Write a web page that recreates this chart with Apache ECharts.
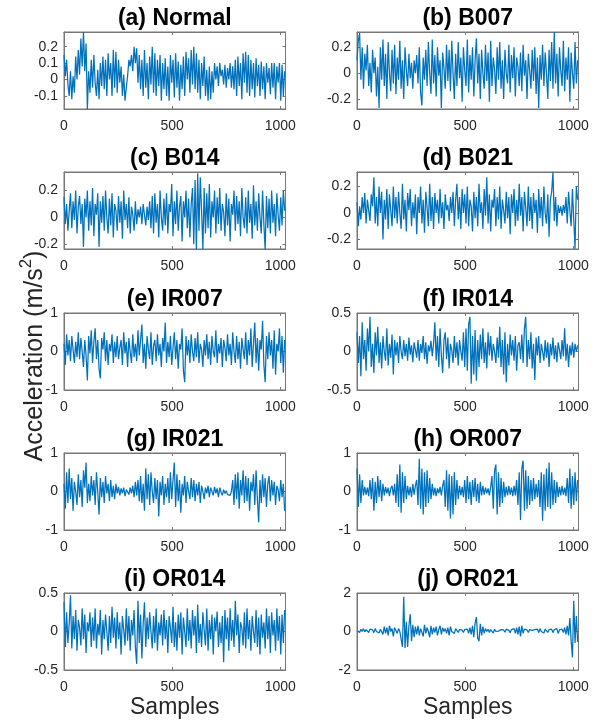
<!DOCTYPE html>
<html>
<head>
<meta charset="utf-8">
<script src="https://cdn.jsdelivr.net/npm/echarts@6/dist/echarts.min.js"></script>
<style>html,body{margin:0;padding:0;background:#fff}#c{width:608px;height:726px}</style>
</head>
<body>
<div id="c"></div>
<script>
// ---- data ----
const SAMPLE_STEP = 6; // samples between successive readings
const titles = ['(a) Normal','(b) B007','(c) B014','(d) B021','(e) IR007','(f) IR014','(g) IR021','(h) OR007','(i) OR014','(j) OR021'];
const xTickValues = [0, 500, 1000];
const yMins = [-0.18, -0.277, -0.236, -0.272, -1, -0.5, -1, -1, -0.5, -2];
const yMaxs = [0.29, 0.318, 0.339, 0.309, 1, 0.5, 1, 1, 0.5, 2];
const yTickValues = [[-0.1,0,0.1,0.2],[-0.2,0,0.2],[-0.2,0,0.2],[-0.2,0,0.2],[-1,0,1],[-0.5,0,0.5],[-1,0,1],[-1,0,1],[-0.5,0,0.5],[-2,0,2]];
const yAxisTitle = 'Acceleration (m/s';
const xAxisTitle = 'Samples';

const normal = [0.15,0.02,0.12,-0.03, -0.1,0.05,-0.12,0.02,-0.08, 0.14,0.0,0.18,0.03, 0.25,0.08,0.29,0.05,0.22,
-0.18,0.05,-0.08,0.12,-0.05, 0.15,-0.02,-0.1,0.06,-0.12,0.1,-0.04,0.14,
-0.06,0.12,-0.1,0.16,0.0,0.1,-0.1,0.18,-0.05,0.17, -0.08,0.12,-0.02,0.08,-0.1,0.03,-0.13,
-0.05,0.02,0.12,0.08,0.15, 0.05,0.2,0.1,0.19,-0.02,0.15,-0.06,0.12,
-0.1,0.18,-0.05,0.1,-0.12,0.14,-0.03,0.2,-0.08,0.16, -0.1,0.12,-0.04,0.15,-0.13,0.1,-0.06,0.13,-0.1,0.08,
-0.13,0.15,-0.02,0.12,-0.11,0.16,-0.05,0.11,-0.13,0.09, -0.06,0.14,-0.1,0.17,0.0,0.13,-0.08,0.18,-0.03,0.2,
-0.06,0.16,-0.08,0.12,-0.12,0.1,-0.04,0.14,-0.1,0.06, -0.13,0.08,-0.12,0.05,-0.08,0.1,
0.0,0.08,-0.04,0.1,0.02,0.06,-0.03,0.09,-0.05,0.07,0.0,0.1,-0.05,0.08,
-0.06,0.12,-0.1,0.14,-0.04,0.1,-0.12,0.16,-0.02,0.17,-0.08,0.15,-0.1,0.12,-0.06,
0.1,-0.11,0.13,-0.04,0.09,-0.1,0.11,-0.06,0.08,-0.12,0.1,-0.02,0.07,-0.09,0.1,
-0.05,0.1,-0.12,0.08,-0.02,0.1,-0.13,0.09,-0.1,0.05];
const b007 = [0.1,0.25,0.31,-0.05,0.2,-0.12,0.15,0.02,0.22,-0.1,
0.08,-0.15,0.18,0.0,0.12,-0.18,0.05,-0.27,0.2,-0.05,
0.26,-0.1,0.15,-0.2,0.24,0.0,-0.14,0.18,-0.08,0.22,
-0.16,0.12,-0.05,0.25,-0.12,0.1,-0.2,0.2,0.02,-0.1,
0.15,-0.04,0.08,-0.12,0.1,0.0,0.14,-0.08,0.2,-0.15,
-0.25,0.12,-0.05,0.18,-0.1,0.24,0.0,-0.16,0.26,-0.08,
0.14,-0.18,0.2,-0.02,0.1,-0.27,0.16,0.04,-0.12,0.22,
-0.06,0.18,-0.14,0.25,0.0,-0.2,0.15,-0.1,0.24,-0.04,
0.12,-0.22,0.2,0.02,-0.1,0.26,-0.15,0.14,-0.05,0.2,
-0.18,0.1,0.27,-0.08,0.15,-0.2,0.18,0.0,-0.12,0.22,
-0.06,0.16,-0.22,0.25,-0.1,0.12,0.03,-0.16,0.2,-0.05,
0.24,-0.12,0.1,-0.2,0.18,0.0,-0.08,0.22,-0.15,0.14,
-0.04,0.2,-0.18,0.12,0.05,-0.1,0.16,-0.14,0.22,-0.02,
0.1,-0.2,0.15,0.02,-0.12,0.18,-0.06,0.2,-0.16,0.12,
-0.27,0.14,-0.05,0.22,-0.1,0.16,0.0,-0.2,0.18,-0.06,
0.24,-0.12,0.32,-0.08,0.15,-0.18,0.2,0.02,-0.1,0.25,
-0.14,0.12,-0.05,0.2,-0.22,0.16,0.0,-0.12,0.24,-0.08,0.1];
const b014 = [0.15,-0.05,0.1,-0.1,0.05,0.18,-0.08,0.12,-0.02,0.2,
-0.12,0.08,0.16,-0.05,0.1,-0.22,0.14,0.0,0.2,-0.1,
0.12,-0.06,0.22,-0.14,0.1,0.02,0.18,-0.22,0.12,-0.04,
0.16,-0.1,0.2,0.0,-0.12,0.14,-0.06,0.18,-0.15,0.1,
0.05,-0.1,0.16,-0.04,0.12,-0.16,0.2,-0.02,0.1,-0.08,
0.15,-0.12,0.08,0.02,-0.1,0.12,-0.05,0.06,0.0,0.08,
-0.05,0.1,0.02,-0.06,0.08,-0.02,0.12,-0.08,0.16,-0.12,
0.18,-0.04,0.1,-0.15,0.2,0.0,-0.1,0.14,-0.06,0.18,
-0.12,0.1,0.04,0.25,-0.14,0.12,-0.05,0.2,-0.1,0.08,
0.16,-0.18,0.12,0.0,0.2,-0.08,0.14,-0.15,0.1,0.22,
-0.2,0.28,-0.24,0.33,-0.1,0.3,0.05,-0.24,0.22,-0.12,
0.18,-0.08,0.25,-0.15,0.12,0.0,0.2,-0.12,0.15,-0.05,
0.22,-0.1,0.1,0.04,-0.14,0.18,-0.06,0.14,-0.18,0.1,
0.02,0.2,-0.1,0.16,-0.05,0.12,-0.14,0.22,0.0,-0.08,
0.15,-0.12,0.2,-0.04,0.1,-0.16,0.24,-0.06,0.12,-0.1,
0.18,0.0,-0.12,0.2,-0.05,-0.24,0.16,-0.08,0.14,-0.12,
0.2,-0.04,0.1,-0.14,0.18,0.02,-0.1,0.15,-0.06,0.2,0.05];
const b021 = [0.08,-0.1,0.05,-0.05,0.12,0.0,0.15,-0.08,0.1,0.02,
-0.06,0.14,0.05,0.27,-0.08,0.12,-0.1,0.2,0.0,0.16,
-0.2,0.1,-0.05,0.18,-0.12,0.14,0.02,-0.1,0.2,-0.04,
0.12,-0.08,0.16,0.0,-0.12,0.22,-0.05,0.1,-0.14,0.15,
0.02,0.18,-0.1,0.08,-0.04,0.14,-0.16,0.12,0.0,0.2,
-0.08,0.1,-0.15,0.16,0.04,-0.1,0.22,-0.06,0.12,-0.12,
0.15,0.0,0.1,-0.08,0.18,-0.04,0.08,-0.12,0.14,0.02,
0.06,-0.06,0.12,0.0,0.16,-0.1,0.1,0.22,-0.05,0.12,
-0.12,0.18,0.0,0.14,-0.08,0.2,-0.1,0.1,0.05,-0.14,
0.16,-0.04,0.12,-0.1,0.22,0.0,0.08,-0.12,0.18,-0.02,
0.27,-0.08,0.14,-0.14,0.1,0.04,0.18,-0.1,0.12,-0.05,
0.2,-0.12,0.1,0.02,-0.08,0.16,-0.04,0.12,-0.16,0.14,
0.0,0.18,-0.1,0.1,-0.06,0.22,-0.02,0.12,-0.14,0.16,
0.04,-0.1,0.2,-0.06,0.12,-0.12,0.15,0.0,0.1,-0.15,
0.18,-0.04,0.12,-0.1,0.2,0.0,-0.08,0.14,-0.18,0.1,
0.16,0.31,-0.06,0.12,-0.1,0.06,0.0,0.05,-0.02,0.06,
0.0,0.12,-0.08,0.16,0.02,-0.1,0.18,-0.05,-0.27,0.2,0.1];
const ir007 = [0.2,-0.35,0.45,-0.1,0.3,-0.25,0.4,0.05,-0.3,0.25,
-0.15,0.5,-0.2,0.35,0.0,-0.4,0.3,-0.1,-0.75,0.4,
-0.05,0.55,-0.3,0.25,0.6,-0.2,0.3,-0.45,-0.7,0.35,
0.05,0.5,-0.25,0.3,-0.35,0.2,0.0,0.45,-0.3,0.25,
-0.15,0.4,-0.2,0.1,0.3,-0.35,0.5,-0.05,0.25,-0.4,
0.35,0.0,-0.3,0.45,-0.15,0.2,-0.25,0.55,-0.1,0.3,
0.7,-0.3,0.2,-0.45,0.4,0.05,-0.2,0.5,-0.35,0.15,
0.3,-0.25,0.45,-0.1,0.2,-0.4,0.35,0.0,0.75,-0.3,
0.25,-0.15,0.4,-0.35,0.1,0.5,-0.2,0.3,-0.45,0.2,
0.05,0.6,-0.5,-0.8,0.4,-0.1,0.3,-0.3,0.45,0.0,
-0.25,0.35,-0.15,0.5,-0.3,0.2,0.05,-0.4,0.3,-0.1,
0.45,-0.2,0.25,-0.35,0.4,0.0,-0.15,0.55,-0.3,0.2,
-0.05,0.35,-0.4,0.3,0.1,-0.25,0.45,-0.1,0.2,-0.35,
0.5,0.0,-0.3,0.4,-0.2,0.25,-0.45,0.35,0.05,-0.2,
0.5,-0.35,0.3,-0.1,0.6,-0.4,0.2,0.75,-0.3,0.35,
-0.5,0.3,0.05,0.8,-0.35,-0.8,0.4,-0.2,0.5,-0.1,
0.3,-0.45,0.55,-0.6,0.2,0.0,0.6,-0.3,0.4,-0.55,0.3];
const ir014 = [0.25,-0.15,0.2,-0.32,0.38,-0.1,0.15,-0.25,0.3,0.0,
0.45,-0.2,0.1,-0.28,0.25,-0.05,0.32,-0.15,0.12,-0.22,
0.2,0.0,-0.12,0.3,-0.18,0.1,-0.08,0.22,-0.3,0.15,
-0.05,0.12,-0.15,0.2,0.0,-0.1,0.15,-0.06,0.1,-0.12,
0.18,-0.04,0.08,-0.14,0.12,0.02,-0.08,0.15,-0.12,0.1,
-0.02,0.2,-0.1,0.12,-0.16,0.08,0.0,0.14,-0.06,0.1,
0.38,-0.12,0.2,-0.2,0.3,-0.05,-0.28,0.15,0.25,-0.1,
0.18,-0.22,0.1,0.02,-0.15,0.2,-0.08,0.12,-0.18,0.15,
0.0,-0.12,0.25,-0.2,0.3,-0.25,0.35,0.45,-0.42,0.2,
-0.3,0.28,-0.38,0.15,-0.2,0.22,-0.1,0.3,-0.15,0.12,
-0.22,0.25,-0.05,0.2,-0.12,0.1,0.0,-0.15,0.18,-0.08,
0.32,-0.2,0.15,-0.3,0.25,-0.4,0.1,-0.18,0.22,-0.05,
0.15,-0.12,0.2,-0.25,0.08,0.12,-0.1,0.22,-0.15,0.3,
0.45,-0.2,0.15,-0.1,0.25,-0.22,0.1,-0.37,0.18,-0.05,
0.2,-0.15,0.1,0.0,-0.12,0.15,-0.08,0.12,-0.2,0.1,
-0.05,0.18,-0.1,0.08,-0.14,0.12,0.02,-0.1,0.15,-0.06,
0.3,-0.12,0.1,-0.2,0.08,-0.05,0.12,-0.08,0.1,0.0,0.08];
const ir021 = [0.2,-0.45,0.5,-0.3,0.6,-0.2,0.35,-0.5,0.25,0.0,
-0.35,0.45,-0.15,0.3,-0.4,0.55,0.1,0.75,-0.3,0.2,
-0.25,0.4,-0.1,0.3,-0.35,0.5,0.0,-0.6,0.35,-0.15,
0.25,-0.3,0.4,-0.05,0.2,-0.25,0.3,-0.15,0.15,-0.2,
0.2,-0.05,0.12,-0.1,0.08,-0.05,0.1,-0.12,0.05,0.0,
-0.08,0.1,-0.05,0.15,-0.15,0.25,-0.1,0.3,-0.25,0.4,
-0.3,0.2,-0.5,0.6,-0.2,0.45,-0.35,0.5,0.0,-0.3,
0.35,-0.2,0.3,-0.65,0.25,-0.1,0.4,-0.35,0.2,-0.15,
0.35,-0.3,0.5,-0.2,0.3,0.75,-0.4,0.45,-0.25,0.3,
-0.55,0.2,-0.1,0.4,-0.3,0.25,0.0,-0.2,0.35,-0.15,
0.3,-0.25,0.2,-0.1,0.25,-0.3,0.15,0.0,-0.2,0.1,
-0.05,0.15,-0.15,0.1,0.05,-0.1,0.12,-0.05,0.08,-0.15,
0.1,-0.02,-0.1,0.05,-0.05,0.02,-0.08,-0.06,-0.1,0.0,
0.3,-0.35,0.45,-0.2,0.5,-0.45,0.3,-0.1,0.55,-0.3,
0.4,-0.25,0.35,-0.5,0.25,0.0,0.45,-0.35,0.55,-0.2,
-0.8,0.3,-0.3,0.45,-0.15,0.35,-0.4,0.2,0.4,-0.25,
0.3,-0.1,0.25,-0.35,0.15,0.05,-0.25,0.3,-0.15,0.2,-0.5];
const or007 = [0.6,-0.4,0.45,-0.3,0.3,-0.1,0.12,-0.08,0.1,-0.12,
0.3,-0.2,0.35,-0.5,0.25,-0.3,0.4,-0.15,0.3,-0.25,
0.2,-0.1,0.12,-0.05,0.1,-0.12,0.08,0.15,-0.1,0.2,
-0.3,0.45,-0.4,0.7,-0.55,0.5,-0.3,0.4,-0.2,0.15,
-0.1,0.12,-0.15,0.2,-0.08,0.15,0.3,-0.35,0.85,-0.45,
0.6,-0.6,0.5,-0.4,0.55,-0.3,0.35,-0.2,0.2,-0.1,
0.1,-0.12,0.08,-0.05,0.12,-0.1,0.15,0.3,-0.4,0.55,
-0.5,0.45,-0.7,0.4,-0.6,0.5,-0.35,0.3,-0.2,0.15,
-0.1,0.12,-0.15,0.3,-0.3,0.4,-0.2,0.25,-0.35,0.3,
-0.15,0.35,-0.25,0.2,-0.3,0.25,-0.1,0.15,-0.08,0.1,
-0.05,0.08,-0.1,0.12,0.4,-0.45,0.55,0.7,-0.6,0.5,
-0.4,0.35,-0.3,0.25,-0.15,0.12,-0.1,0.15,-0.08,0.1,
-0.12,0.15,-0.1,0.3,-0.35,0.5,-0.74,0.6,0.8,-0.5,
0.55,-0.45,0.4,-0.35,0.3,-0.25,0.35,-0.2,0.2,-0.15,
0.3,-0.4,0.5,-0.76,0.45,-0.5,0.6,-0.4,0.75,-0.45,
0.5,-0.35,0.3,-0.3,0.25,-0.15,0.12,-0.1,0.15,-0.08,
0.1,-0.12,0.35,-0.3,0.6,-0.45,0.4,-0.35,0.5,-0.25,0.3];
const or014 = [0.38,-0.2,0.25,-0.15,0.1,0.47,-0.22,0.2,-0.1,0.28,
-0.25,0.15,0.05,-0.18,0.3,-0.1,0.22,-0.28,0.12,0.0,
0.25,-0.2,0.18,-0.12,0.3,-0.22,0.1,-0.05,0.28,-0.3,
0.15,-0.1,0.22,0.0,-0.25,0.2,-0.15,0.32,-0.08,0.18,
-0.22,0.25,-0.1,0.12,-0.3,0.2,0.02,-0.18,0.3,-0.12,
0.2,-0.25,0.15,-0.05,0.28,-0.2,-0.42,0.4,-0.15,0.22,
-0.35,0.1,0.38,-0.2,0.18,-0.1,0.25,0.0,-0.22,0.2,
-0.15,0.3,-0.25,0.12,-0.05,0.22,-0.18,0.28,-0.1,0.15,
-0.28,0.2,0.05,-0.15,0.32,-0.2,0.12,-0.25,0.22,-0.08,
0.25,-0.3,0.18,0.0,-0.2,0.3,-0.12,0.15,-0.22,0.28,
-0.05,0.2,-0.28,0.35,-0.15,0.1,-0.2,0.25,0.02,-0.18,
0.3,-0.25,0.15,-0.1,0.22,-0.3,0.18,0.0,0.26,-0.2,
0.12,-0.15,0.2,-0.4,0.28,-0.1,0.18,-0.25,0.3,-0.12,
0.15,-0.2,0.4,-0.05,0.22,-0.28,0.12,0.05,-0.18,0.25,
-0.22,0.3,-0.1,0.15,-0.25,0.2,0.0,-0.15,0.28,-0.2,
0.18,-0.3,0.22,-0.08,0.12,-0.22,0.3,-0.1,0.2,-0.28,
0.25,-0.05,0.15,-0.25,0.3,-0.12,0.2,-0.3,0.22,-0.15,0.28];
const or021 = [0.05,0.1,-0.05,0.12,0.0,0.15,-0.02,0.1,0.05,-0.05,
0.12,0.02,0.08,-0.06,0.15,0.0,0.1,-0.08,0.12,0.05,
-0.15,0.25,-0.1,0.2,-0.2,0.3,0.0,0.15,-0.25,0.2,
0.05,-0.1,0.15,0.0,0.1,-0.8,1.8,-0.85,0.5,-0.8,
0.3,0.9,-0.5,0.35,-0.3,0.25,-0.15,0.3,-0.2,0.15,
0.05,-0.25,0.35,-0.1,0.2,0.0,-0.3,0.3,-0.15,0.2,
-0.05,0.25,-0.2,0.1,0.3,-0.15,0.2,0.0,0.15,-0.1,
0.2,-0.2,0.25,0.0,0.1,-0.1,0.15,0.05,-0.05,0.1,
0.0,0.08,-0.05,0.1,0.02,0.12,-0.1,0.2,-0.15,0.3,
-0.3,0.45,0.75,-0.35,-0.5,0.4,-0.2,0.25,-0.1,0.15,
0.0,0.12,-0.05,0.1,0.05,-0.08,0.12,0.0,0.08,0.02,
-0.05,0.1,0.0,0.08,-0.04,0.12,0.02,0.06,-0.06,0.1,
0.0,0.15,-0.1,0.2,-0.15,0.25,-0.25,0.3,-0.1,0.12,
0.02,0.08,-0.05,0.1,0.0,0.06,-0.04,0.1,0.02,0.12,
-0.05,0.15,0.0,0.1,-0.08,0.12,0.05,-0.05,0.1,0.0,
0.12,-0.06,0.1,0.02,0.15,-0.1,0.08,0.0,0.12,-0.05,
0.2,-0.15,0.3,-0.2,0.7,-0.5,-1.35,1.6,-0.6,0.8,-0.55];
const seriesValues = [normal, b007, b014, b021, ir007, ir014, ir021, or007, or014, or021];

// ---- layout ----
const colLeft = [64, 357];
const plotW = 221.5;
const rowTop = [32, 172, 313, 453, 593];
const plotH = 77;
const FONT = "'Liberation Sans', Arial, Helvetica, sans-serif";
const AX = '#262626';
const BOX = '#777777';
const fmt = v => String(Math.round(v * 1000) / 1000);

const grids = [], xAxes = [], yAxes = [], series = [], graphics = [];
seriesValues.forEach((vals, k) => {
  const col = k % 2, row = Math.floor(k / 2);
  grids.push({left: colLeft[col], top: rowTop[row], width: plotW, height: plotH,
    show: true, borderColor: BOX, borderWidth: 1, backgroundColor: '#fff', containLabel: false});
  xAxes.push({type: 'value', gridIndex: k, min: 0, max: 1024, splitLine: {show: false}, position: 'bottom',
    axisLine: {show: true, onZero: false, lineStyle: {color: BOX, width: 1}},
    axisTick: {show: true, inside: true, length: 3, customValues: xTickValues, lineStyle: {color: BOX}},
    axisLabel: {show: true, customValues: xTickValues, formatter: fmt, fontSize: 14, color: AX, fontFamily: FONT, margin: 10}});
  yAxes.push({type: 'value', gridIndex: k, min: yMins[k], max: yMaxs[k], splitLine: {show: false}, position: 'left',
    axisLine: {show: true, onZero: false, lineStyle: {color: BOX, width: 1}},
    axisTick: {show: true, inside: true, length: 3, customValues: yTickValues[k], lineStyle: {color: BOX}},
    axisLabel: {show: true, customValues: yTickValues[k], formatter: fmt, fontSize: 14, color: AX, fontFamily: FONT, margin: 6}});
  series.push({type: 'line', xAxisIndex: k, yAxisIndex: k, showSymbol: false, symbol: 'none',
    animation: false, silent: true, clip: true,
    lineStyle: {color: '#0072BD', width: 1.25},
    data: vals.map((v, i) => [i * SAMPLE_STEP, v])});
  graphics.push({type: 'text', x: colLeft[col] + plotW / 2, y: rowTop[row] - 13,
    style: {text: titles[k], font: 'bold 23px ' + FONT, fill: '#000', align: 'center', verticalAlign: 'middle'}});
});
// mirrored ticks on top/right (box)
seriesValues.forEach((vals, k) => {
  xAxes.push({type: 'value', gridIndex: k, min: 0, max: 1024, position: 'top', splitLine: {show: false},
    axisLine: {show: true, onZero: false, lineStyle: {color: BOX, width: 1}},
    axisTick: {show: true, inside: true, length: 3, customValues: xTickValues, lineStyle: {color: BOX}},
    axisLabel: {show: false}});
  yAxes.push({type: 'value', gridIndex: k, min: yMins[k], max: yMaxs[k], position: 'right', splitLine: {show: false},
    axisLine: {show: true, onZero: false, lineStyle: {color: BOX, width: 1}},
    axisTick: {show: true, inside: true, length: 3, customValues: yTickValues[k], lineStyle: {color: BOX}},
    axisLabel: {show: false}});
});
graphics.push({type: 'text', x: 33, y: 356, rotation: Math.PI / 2,
  style: {text: '{a|' + yAxisTitle + '}{s|2}{a|)}', align: 'center', verticalAlign: 'middle',
    rich: {a: {font: '25px ' + FONT, fill: AX, lineHeight: 30, verticalAlign: 'bottom'},
           s: {font: '17px ' + FONT, fill: AX, lineHeight: 30, verticalAlign: 'top'}}}});
[0, 1].forEach(col => graphics.push({type: 'text', x: colLeft[col] + plotW / 2, y: 708,
  style: {text: xAxisTitle, font: '23px ' + FONT, fill: AX, align: 'center', verticalAlign: 'middle'}}));

const chart = echarts.init(document.getElementById('c'), null, {renderer: 'canvas'});
chart.setOption({animation: false, backgroundColor: '#fff', grid: grids, xAxis: xAxes, yAxis: yAxes, series: series, graphic: graphics});
</script>
</body>
</html>
